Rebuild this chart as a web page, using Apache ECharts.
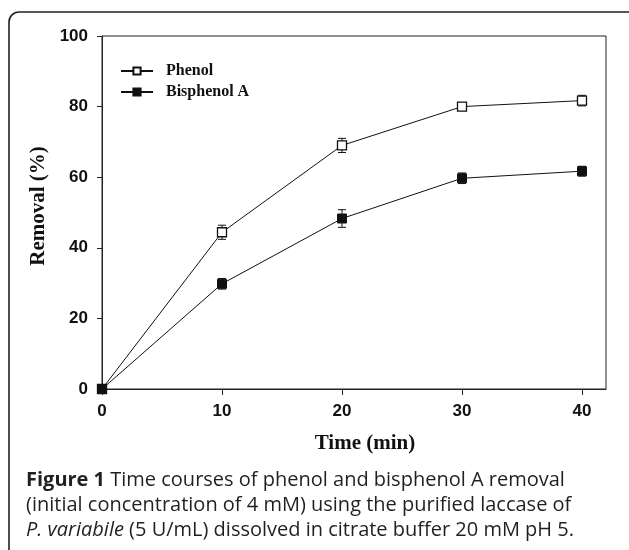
<!DOCTYPE html>
<html>
<head>
<meta charset="utf-8">
<script src="https://cdn.jsdelivr.net/npm/echarts@6/dist/echarts.min.js"></script>
<style>
html,body{margin:0;padding:0;background:#fff;}
#chart{width:629px;height:550px;}
</style>
</head>
<body>
<div id="chart"></div>
<script>
var times = [0, 10, 20, 30, 40];
var phenol = [0, 44.4, 69.0, 80.0, 81.7];
var phenolErr = [0, 2.0, 2.0, 0.8, 1.5];
var bisphenol = [0, 29.8, 48.3, 59.7, 61.7];
var bisphenolErr = [0, 1.5, 2.5, 1.5, 1.4];
var xTicks = [0, 10, 20, 30, 40];
var yTicks = [0, 20, 40, 60, 80, 100];
var seriesNames = ['Phenol', 'Bisphenol A'];
var xTitle = 'Time (min)';
var yTitle = 'Removal (%)';
var captionLines = [
  '{b|Figure 1} Time courses of phenol and bisphenol A removal',
  '(initial concentration of 4 mM) using the purified laccase of',
  '{i|P. variabile} (5 U/mL) dissolved in citrate buffer 20 mM pH 5.'
];

function pairs(xs, ys) { return xs.map(function (x, i) { return [x, ys[i]]; }); }
function errData(xs, ys, es) { return xs.map(function (x, i) { return [x, ys[i] - es[i], ys[i] + es[i]]; }); }

function errRender(params, api) {
  var x = api.value(0);
  var lo = api.coord([x, api.value(1)]);
  var hi = api.coord([x, api.value(2)]);
  if (Math.abs(lo[1] - hi[1]) < 1) return null;
  var cap = 4;
  var st = { stroke: '#111', lineWidth: 1 };
  return {
    type: 'group',
    children: [
      { type: 'line', shape: { x1: lo[0], y1: lo[1], x2: hi[0], y2: hi[1] }, style: st },
      { type: 'line', shape: { x1: lo[0] - cap, y1: lo[1], x2: lo[0] + cap, y2: lo[1] }, style: st },
      { type: 'line', shape: { x1: hi[0] - cap, y1: hi[1], x2: hi[0] + cap, y2: hi[1] }, style: st }
    ]
  };
}

var chart = echarts.init(document.getElementById('chart'));
var tickFont = { fontFamily: 'Liberation Sans', fontWeight: 'bold', fontSize: 17, color: '#111' };
var titleFont = { fontFamily: 'Liberation Serif', fontWeight: 'bold', fontSize: 21, color: '#111' };

var captionGraphics = captionLines.map(function (t, i) {
  return {
    type: 'text', left: 26, top: 470 + i * 25, z: 10,
    style: {
      text: t, fontFamily: 'Open Sans', fontSize: 20, fill: '#231f20',
      rich: {
        b: { fontFamily: 'Open Sans', fontSize: 20, fontWeight: 'bold', fill: '#231f20' },
        i: { fontFamily: 'Open Sans', fontSize: 20, fontStyle: 'italic', fill: '#231f20' }
      }
    }
  };
});

chart.setOption({
  animation: false,
  backgroundColor: '#fff',
  grid: { left: 102, top: 36, right: 23, bottom: 161, show: true, borderColor: '#222', borderWidth: 1, backgroundColor: 'transparent' },
  graphic: [
    { type: 'rect', shape: { x: 9, y: 12, width: 700, height: 600, r: 10 }, style: { fill: 'none', stroke: '#222', lineWidth: 1.6 }, silent: true }
  ].concat(captionGraphics),
  legend: {
    orient: 'vertical', left: 115, top: 58, itemGap: 5, itemWidth: 32, itemHeight: 9,
    data: seriesNames,
    textStyle: { fontFamily: 'Liberation Serif', fontWeight: 'bold', fontSize: 16, color: '#111', padding: [0, 0, 0, 8] }
  },
  xAxis: {
    type: 'value', min: 0, max: 42, interval: 10,
    name: xTitle, nameLocation: 'middle', nameGap: 44,
    nameTextStyle: Object.assign({ padding: [0, 0, 0, 22] }, titleFont),
    axisLine: { show: true, lineStyle: { color: '#222', width: 1 } },
    axisTick: { show: true, length: 6, lineStyle: { color: '#222' }, customValues: xTicks },
    axisLabel: Object.assign({ margin: 14, customValues: xTicks }, tickFont),
    splitLine: { show: false }
  },
  yAxis: {
    type: 'value', min: 0, max: 100, interval: 20,
    name: yTitle, nameLocation: 'middle', nameGap: 45, nameRotate: 90,
    nameTextStyle: Object.assign({ padding: [0, 0, 0, 13] }, titleFont),
    axisLine: { show: true, lineStyle: { color: '#222', width: 1 } },
    axisTick: { show: true, length: 5, lineStyle: { color: '#222' }, customValues: yTicks },
    axisLabel: Object.assign({ margin: 14, customValues: yTicks }, tickFont),
    splitLine: { show: false }
  },
  series: [
    {
      name: seriesNames[0], type: 'line', data: pairs(times, phenol),
      symbol: 'rect', symbolSize: 9, clip: false,
      lineStyle: { color: '#111', width: 1 },
      itemStyle: { color: '#fff', borderColor: '#111', borderWidth: 1.3 },
      z: 3
    },
    {
      name: seriesNames[1], type: 'line', data: pairs(times, bisphenol),
      symbol: 'rect', symbolSize: 9, clip: false,
      lineStyle: { color: '#111', width: 1 },
      itemStyle: { color: '#111', borderColor: '#111', borderWidth: 1 },
      z: 4
    },
    { type: 'custom', renderItem: errRender, data: errData(times, phenol, phenolErr), z: 2, silent: true, clip: false },
    { type: 'custom', renderItem: errRender, data: errData(times, bisphenol, bisphenolErr), z: 2, silent: true, clip: false }
  ]
});
</script>
</body>
</html>
